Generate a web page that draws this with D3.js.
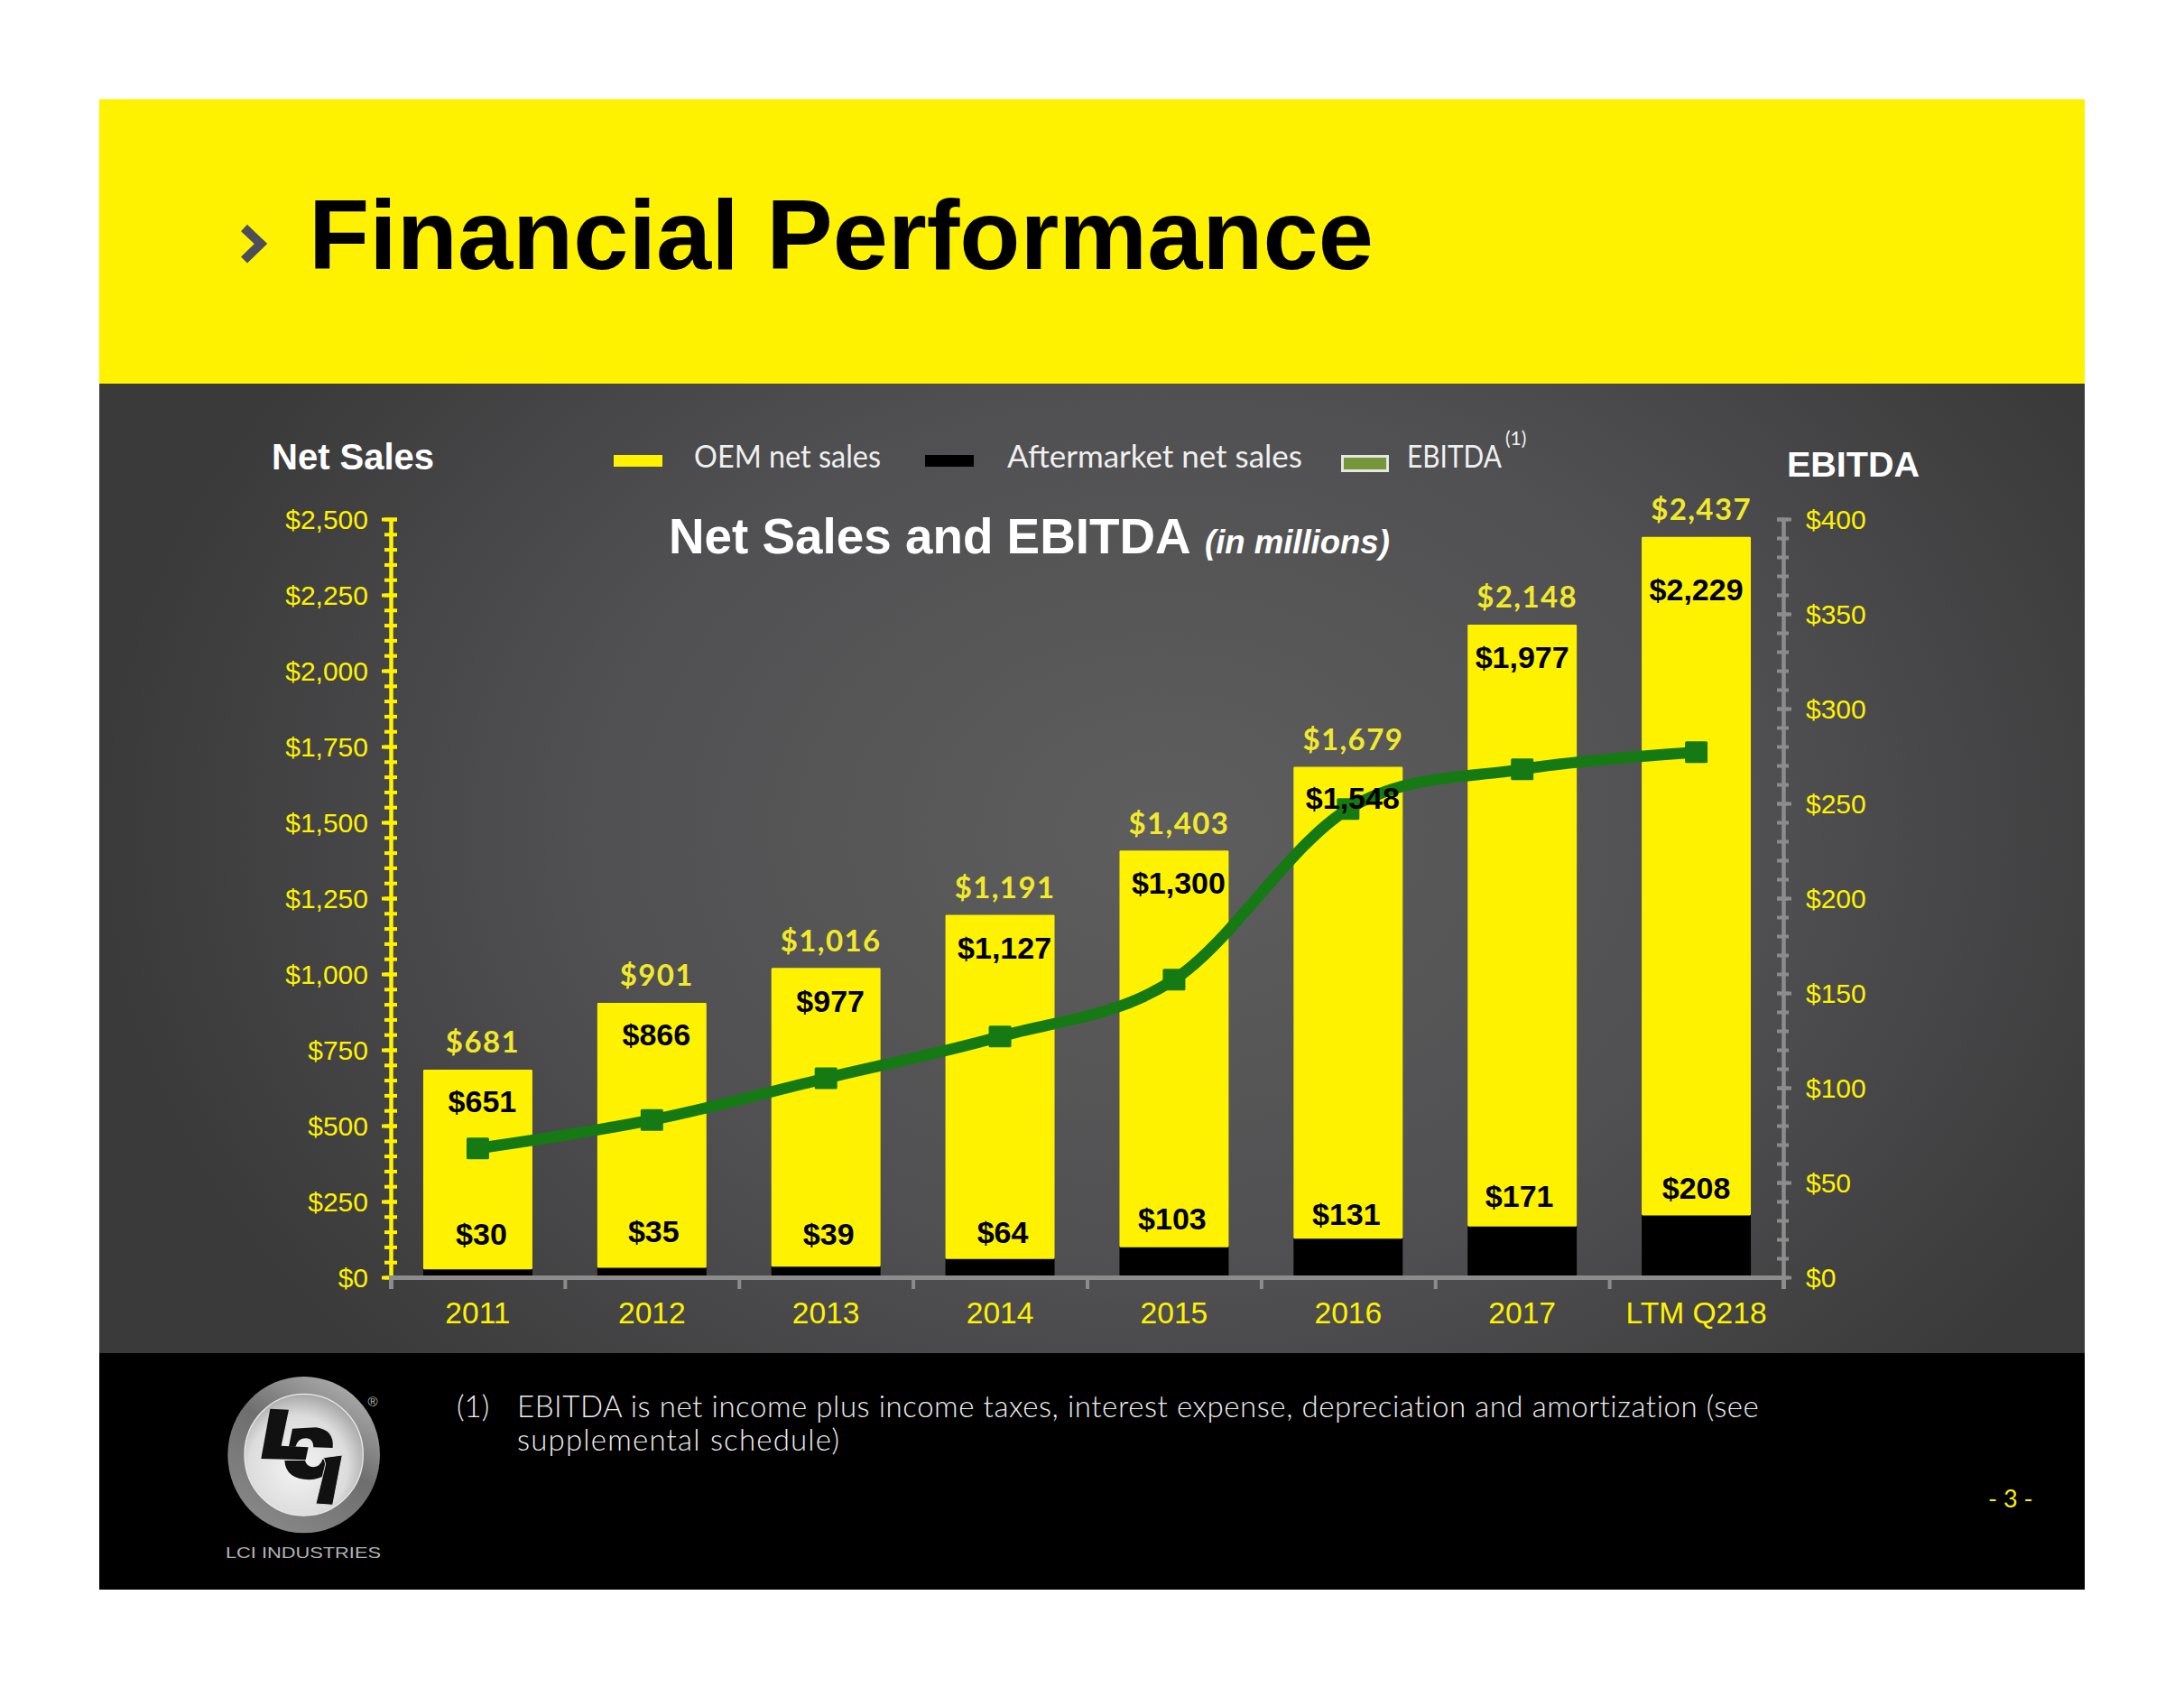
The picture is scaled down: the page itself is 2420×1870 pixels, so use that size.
<!DOCTYPE html>
<html>
<head>
<meta charset="utf-8">
<script src="https://cdnjs.cloudflare.com/ajax/libs/d3/7.8.5/d3.min.js"></script>
<style>
html,body{margin:0;padding:0;background:#fff;}
svg{display:block;}
text{font-family:"Liberation Sans",Arial,sans-serif;}
</style>
</head>
<body>
<div id="chart"></div>
<script>
const categories = ["2011","2012","2013","2014","2015","2016","2017","LTM Q218"];
const oemSales = [651,866,977,1127,1300,1548,1977,2229];
const aftermarketSales = [30,35,39,64,103,131,171,208];
const totalSales = [681,901,1016,1191,1403,1679,2148,2437];
const ebitda = [68,83,105,127,157,247,268,277];
const salesMajorTicks = d3.range(0,2501,250);
const ebitdaMajorTicks = d3.range(0,401,50);

const W=2420,H=1870;
const svg=d3.select("#chart").append("svg").attr("width",W).attr("height",H).attr("viewBox",`0 0 ${W} ${H}`);
const defs=svg.append("defs");
const YEL="#fff200", GREEN="#157a14", GRAY="#8c8c8c";

const pg=defs.append("radialGradient").attr("id","panel").attr("gradientUnits","userSpaceOnUse")
 .attr("cx",1290).attr("cy",920).attr("r",1180)
 .attr("gradientTransform","translate(1290 920) scale(1 .75) translate(-1290 -920)");
pg.append("stop").attr("offset",0).attr("stop-color","#5e5e5e");
pg.append("stop").attr("offset",.55).attr("stop-color","#505052");
pg.append("stop").attr("offset",1).attr("stop-color","#3a3a3b");

svg.append("rect").attr("x",110).attr("y",110).attr("width",2200).attr("height",316).attr("fill",YEL);
svg.append("rect").attr("x",110).attr("y",425).attr("width",2200).attr("height",1075).attr("fill","url(#panel)");
svg.append("rect").attr("x",110).attr("y",1499).attr("width",2200).attr("height",262).attr("fill","#000");

// header
svg.append("path").attr("d","M270.5 252.5 L289 270 L270.5 288").attr("fill","none").attr("stroke","#4c4e59").attr("stroke-width",10).attr("stroke-linejoin","miter");
svg.append("text").attr("x",342).attr("y",298).attr("font-size",110).attr("font-weight",700).attr("fill","#000").text("Financial Performance");

// scales
const x=d3.scaleBand().domain(categories).range([433,1976]).paddingInner(.373).paddingOuter(.1865);
const edge=d3.scaleLinear().domain([0,categories.length]).range([433,1976]);
const ySales=d3.scaleLinear().domain([0,2500]).range([1415,575]);
const yEbitda=d3.scaleLinear().domain([0,400]).range([1415,575]);
const money=d=>"$"+d3.format(",")(d);
const cx=c=>x(c)+x.bandwidth()/2;

// stacked bars (the yellow segment carries a thin outline of its own colour, as in the reference)
const rows=categories.map((c,i)=>({cat:c,oem:oemSales[i],after:aftermarketSales[i],total:totalSales[i],ebitda:ebitda[i]}));
const series=d3.stack().keys(["after","oem"])(rows);
const outline=2.6;
svg.append("g").selectAll("g").data(series).join("g").each(function(s){
  const isOem=s.key==="oem";
  d3.select(this).selectAll("rect").data(s).join("rect")
   .attr("x",d=>x(d.data.cat)+(isOem?outline/2:0)).attr("width",x.bandwidth()-(isOem?outline:0))
   .attr("y",d=>ySales(d[1])).attr("height",d=>ySales(d[0])-ySales(d[1]))
   .attr("fill",isOem?YEL:"#000")
   .attr("stroke",isOem?YEL:"none").attr("stroke-width",isOem?outline:0).attr("stroke-linejoin","round");
});

// axes
function styleAxis(g,color,w,hOut,hIn,tw){
  g.select(".domain").attr("stroke",color).attr("stroke-width",w);
  g.selectAll(".tick line").attr("stroke",color).attr("stroke-width",tw).attr("x1",hOut).attr("x2",hIn);
}
const leftMinor=svg.append("g").attr("transform","translate(433,0)")
 .call(d3.axisLeft(ySales).tickValues(d3.range(0,2501,50)).tickFormat("").tickSizeOuter(0));
styleAxis(leftMinor,YEL,4,-7,7,4);
const leftMajor=svg.append("g").attr("transform","translate(433,0)")
 .call(d3.axisLeft(ySales).tickValues(salesMajorTicks).tickFormat(money).tickSizeOuter(0));
styleAxis(leftMajor,YEL,4,-10,7,4);
leftMajor.selectAll("text").attr("x",-25).attr("dy",0).attr("y",10).attr("font-size",30).attr("fill",YEL);

const rightMinor=svg.append("g").attr("transform","translate(1976,0)")
 .call(d3.axisRight(yEbitda).tickValues(d3.range(0,401,10)).tickFormat("").tickSizeOuter(0));
styleAxis(rightMinor,GRAY,4,-7,6,4);
const rightMajor=svg.append("g").attr("transform","translate(1976,0)")
 .call(d3.axisRight(yEbitda).tickValues(ebitdaMajorTicks).tickFormat(money).tickSizeOuter(0));
styleAxis(rightMajor,GRAY,4,-7,9,4);
rightMajor.selectAll("text").attr("x",25).attr("dy",0).attr("y",10).attr("font-size",30).attr("fill",YEL);

const bottomTicks=svg.append("g").attr("transform","translate(0,1415)")
 .call(d3.axisBottom(edge).tickValues(d3.range(0,categories.length+1)).tickFormat("").tickSizeOuter(0).tickSize(13));
bottomTicks.select(".domain").attr("stroke",GRAY).attr("stroke-width",5);
bottomTicks.selectAll(".tick line").attr("stroke",GRAY).attr("stroke-width",4);
const bottomLabels=svg.append("g").attr("transform","translate(0,1415)")
 .call(d3.axisBottom(x).tickSize(0));
bottomLabels.select(".domain").remove();
bottomLabels.selectAll("text").attr("y",51).attr("dy",0).attr("font-size",33.6).attr("fill",YEL);

// EBITDA line
const line=d3.line().x(d=>cx(d.cat)).y(d=>yEbitda(d.ebitda)).curve(d3.curveCatmullRom.alpha(0));
svg.append("path").datum(rows).attr("d",line).attr("fill","none").attr("stroke",GREEN).attr("stroke-width",12.5);
svg.append("g").selectAll("rect").data(rows).join("rect")
 .attr("x",d=>cx(d.cat)-12.5).attr("y",d=>yEbitda(d.ebitda)-12).attr("width",25).attr("height",24).attr("rx",1.5).attr("fill",GREEN);

// value labels
const oemLabelDrop=[46,46,47,47,46,45,47,69];
const afterLabelRise=[26,27,23,16,18,14,21,17];
const afterLabelShift=[4,2,3,3,-2,-2,-3,0];
svg.append("g").selectAll("text").data(rows).join("text")
 .attr("x",d=>cx(d.cat)+5.5).attr("y",d=>ySales(d.total)-20).attr("text-anchor","middle")
 .attr("font-size",33).attr("font-weight",700).attr("letter-spacing",1.4)
 .attr("fill","#f2e92a").style("font-family","Lato").text(d=>money(d.total));
svg.append("g").selectAll("text").data(rows).join("text")
 .attr("x",(d,i)=>cx(d.cat)+(i===6?0:i===7?0:5)).attr("y",(d,i)=>ySales(d.total)+oemLabelDrop[i]).attr("text-anchor","middle")
 .attr("font-size",34).attr("font-weight",700).attr("fill","#000").text(d=>money(d.oem));
svg.append("g").selectAll("text").data(rows).join("text")
 .attr("x",(d,i)=>cx(d.cat)+afterLabelShift[i]).attr("y",(d,i)=>ySales(d.after)-afterLabelRise[i]).attr("text-anchor","middle")
 .attr("font-size",34).attr("font-weight",700).attr("fill","#000").text(d=>money(d.after));

// headings
const white="#ffffff";
svg.append("text").attr("x",301).attr("y",520).attr("font-size",40).attr("font-weight",700).attr("fill",white).text("Net Sales");
svg.append("text").attr("x",1980).attr("y",528).attr("font-size",39.5).attr("font-weight",700).attr("fill",white).text("EBITDA");
svg.append("text").attr("x",741).attr("y",613).attr("font-size",54.8).attr("font-weight",700).attr("fill",white).text("Net Sales and EBITDA");
svg.append("text").attr("x",1335).attr("y",613).attr("font-size",36.5).attr("font-weight",700).attr("font-style","italic").attr("fill",white).text("(in millions)");

// legend
const legendLabels=["OEM net sales","Aftermarket net sales","EBITDA"];
const legendX=[769,1116,1559];
const legendFit=[207,327,105];
svg.append("rect").attr("x",680).attr("y",504).attr("width",54).attr("height",13).attr("fill",YEL);
svg.append("rect").attr("x",1025).attr("y",504).attr("width",54).attr("height",13).attr("fill","#000");
svg.append("rect").attr("x",1487.5).attr("y",505.5).attr("width",50).attr("height",16).attr("fill","#76963c").attr("stroke","#e6e6e0").attr("stroke-width",3);
legendLabels.forEach((t,i)=>{
  const el=svg.append("text").attr("font-size",34).attr("fill","#efefef").style("font-family","Lato").text(t);
  const k=legendFit[i]/el.node().getComputedTextLength();
  el.attr("transform",`translate(${legendX[i]},518) scale(${k},1)`);
});
svg.append("text").attr("x",1668).attr("y",493).attr("font-size",21).attr("fill","#efefef").style("font-family","Lato").text("(1)");

// footnote
const fn=(s,xx,yy,ls)=>svg.append("text").attr("x",xx).attr("y",yy).attr("font-size",33).attr("letter-spacing",ls).attr("fill","#efefef").style("font-family","Lato").style("font-weight",300).text(s);
fn("(1)",506,1570,0);
fn("EBITDA is net income plus income taxes, interest expense, depreciation and amortization (see",573,1570,.56);
fn("supplemental schedule)",573,1607,1.2);
svg.append("text").attr("x",2203).attr("y",1670).attr("font-size",27).attr("fill",YEL).style("font-family","Lato").text("- 3 -");

// logo
const og=defs.append("linearGradient").attr("id","lo").attr("x1",.8).attr("y1",0).attr("x2",.2).attr("y2",1);
og.append("stop").attr("offset",0).attr("stop-color","#b0b0b0");
og.append("stop").attr("offset",.45).attr("stop-color","#6e6e6e");
og.append("stop").attr("offset",1).attr("stop-color","#8a8a8a");
const ig=defs.append("radialGradient").attr("id","li").attr("cx",.45).attr("cy",.6).attr("r",.6);
ig.append("stop").attr("offset",0).attr("stop-color","#f4f4f4");
ig.append("stop").attr("offset",.7).attr("stop-color","#dcdcdc");
ig.append("stop").attr("offset",1).attr("stop-color","#a8a8a8");
const logo=svg.append("g").attr("transform","translate(240,1510) scale(.3333)");
logo.append("ellipse").attr("cx",290).attr("cy",305).attr("rx",253).attr("ry",260).attr("fill","url(#lo)");
logo.append("ellipse").attr("cx",290).attr("cy",305).attr("rx",197).attr("ry",202).attr("fill","url(#li)").attr("stroke","#e8e8e8").attr("stroke-width",4);
logo.append("path").attr("fill","#111").attr("d","M178 152 L240 155 L215 275 L305 280 L296 322 L148 318 Z");
logo.append("path").attr("fill","#111").attr("d","M240 278 L252 218 L330 214 Q392 222 386 282 L322 280 Q322 252 298 250 Q270 250 262 278 Z");
logo.append("path").attr("fill","#111").attr("d","M226 324 L294 324 Q300 346 322 346 Q346 342 352 320 L394 316 Q376 386 308 388 Q230 386 226 324 Z");
logo.append("path").attr("fill","#111").attr("stroke","#ddd").attr("stroke-width",3).attr("d","M356 314 L418 306 L386 472 L330 468 L362 336 Z");
svg.append("text").attr("x",413).attr("y",1558).attr("text-anchor","middle").attr("font-size",15).attr("fill","#bbb").text("®");
svg.append("text").attr("x",250).attr("y",1726).attr("font-size",17).attr("fill","#b4b4b4").attr("textLength",172).attr("lengthAdjust","spacingAndGlyphs").text("LCI INDUSTRIES");
</script>
</body>
</html>
